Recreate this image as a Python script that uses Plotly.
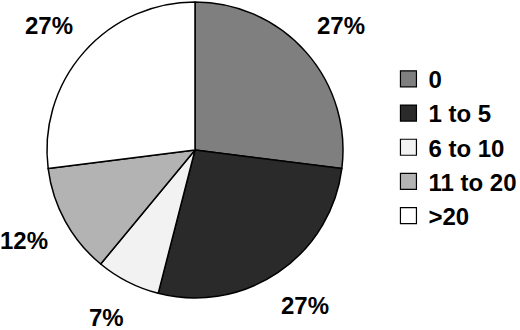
import math
import plotly.graph_objects as go

labels = ["0", "1 to 5", "6 to 10", "11 to 20", ">20"]
values = [27, 27, 7, 12, 27]
colors = ["#7f7f7f", "#2a2a2a", "#f2f2f2", "#b3b3b3", "#ffffff"]

W, H = 520, 330
CX, CY, R = 195, 150, 148      # pie centre / radius in pixels
LABEL_RX, LABEL_RY = 195, 188   # label ring (horizontal / vertical) around the centre

fig = go.Figure()
fig.add_trace(go.Pie(
    labels=labels, values=values, sort=False, direction="clockwise", rotation=0,
    marker=dict(colors=colors, line=dict(color="#000000", width=1.5)),
    textinfo="none", showlegend=False,
    domain=dict(x=[(CX - R) / W, (CX + R) / W], y=[1 - (CY + R) / H, 1 - (CY - R) / H]),
    hoverinfo="label+value",
))

# legend entries
for lab, col in zip(labels, colors):
    fig.add_trace(go.Scatter(
        x=[None], y=[None], mode="markers", name=lab, legendgroup=lab,
        marker=dict(symbol="square", size=16, color=col, line=dict(color="#000000", width=1.2)),
    ))

# percentage labels placed at each slice's mid-angle
total = sum(values)
cum = 0
for v in values:
    mid = (cum + v / 2) / total * 2 * math.pi
    cum += v
    px = CX + LABEL_RX * math.sin(mid)
    py = CY - LABEL_RY * math.cos(mid)
    fig.add_annotation(
        x=px / W, y=1 - py / H, xref="paper", yref="paper",
        text=f"{v}%", showarrow=False, xanchor="center", yanchor="middle",
        font=dict(family="Liberation Sans", size=24, color="#000000", weight="bold"),
    )

fig.update_layout(
    width=W, height=H, margin=dict(l=0, r=0, t=0, b=0, autoexpand=False),
    paper_bgcolor="#ffffff", plot_bgcolor="#ffffff",
    font=dict(family="Liberation Sans", color="#000000"),
    xaxis=dict(visible=False), yaxis=dict(visible=False),
    legend=dict(x=0.747, y=0.828, xanchor="left", yanchor="top",
                font=dict(family="Liberation Sans", size=24, color="#000000", weight="bold"),
                traceorder="normal", tracegroupgap=1, bgcolor="rgba(0,0,0,0)"),
)
fig.write_html("out.html", config={"displayModeBar": False},
               post_script="document.body.style.margin='0';")
